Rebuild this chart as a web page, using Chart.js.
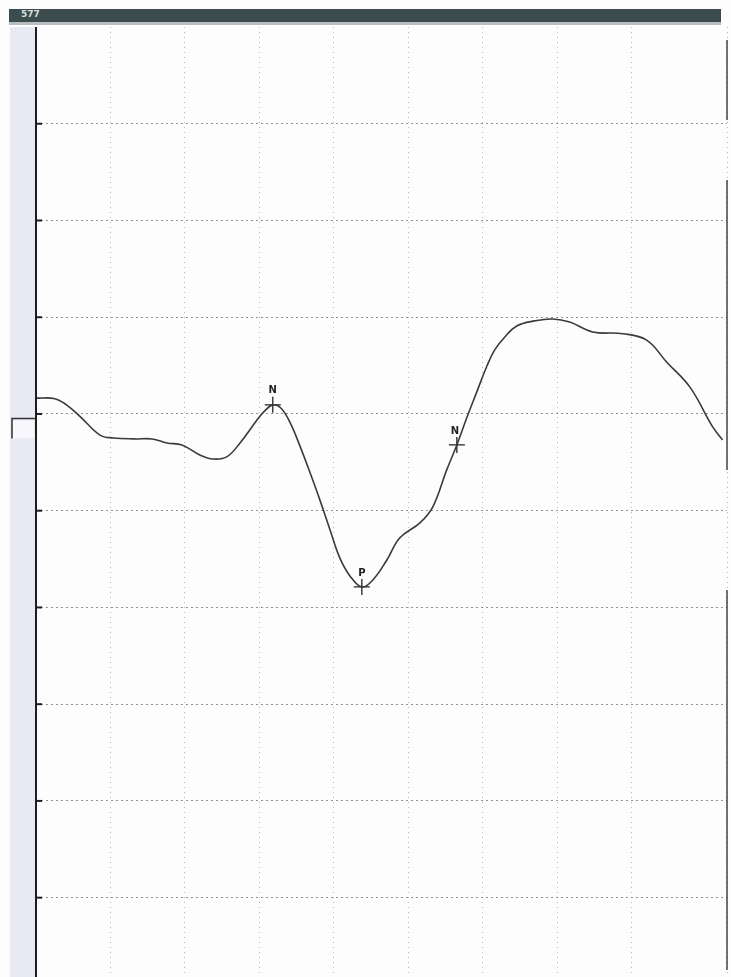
<!DOCTYPE html>
<html>
<head>
<meta charset="utf-8">
<script src="https://cdn.jsdelivr.net/npm/chart.js@4.4.0/dist/chart.umd.min.js"></script>
<style>
  html, body { margin: 0; padding: 0; background: #fff; }
  #wrap { position: relative; width: 731px; height: 977px; overflow: hidden; background: #fdfdfd; }
  #topbar { position: absolute; left: 9px; top: 9px; width: 712px; height: 13px; background: #3c4c4c; }
  #topbar span { position: absolute; left: 12px; top: 0px; font: bold 9px "DejaVu Sans", sans-serif; color: #d8dede; }
  #topline { position: absolute; left: 9px; top: 22px; width: 712px; height: 3px; background: #b9bfc0; }
  #strip { position: absolute; left: 10px; top: 27px; width: 25px; height: 950px; background: #e9e9f4; }
  #graficoOnda { position: absolute; left: 0; top: 0; }
</style>
</head>
<body>
<div id="wrap">
  <div id="strip"></div>
  <div id="topbar"><span>577</span></div>
  <div id="topline"></div>
  <canvas id="graficoOnda" width="731" height="977"></canvas>
</div>
<script>
var tiempos = [0, 6, 10, 15, 21.5, 26, 33, 39, 44, 49, 55, 59.5, 64, 68.5, 74.2, 76.8, 79.5, 82.2, 85.2, 88.6,
               91.9, 95.3, 98.7, 102, 105.4, 109.4, 113.1, 117.8, 122.1, 128.9, 133.2, 137.9, 141.3, 144.6, 148, 151.4,
               154, 157.4, 161.4, 167.4, 173.5, 179.2, 186.9, 197, 205, 211.7, 219.5, 227.2, 230.5];
var amplitudes = [0.82, 0.80, 0.5, -0.16, -1.09, -1.24, -1.29, -1.29, -1.50, -1.60, -2.12, -2.33, -2.22, -1.50, -0.31, 0.16, 0.47, 0.31, -0.41, -1.65,
                  -2.99, -4.44, -5.98, -7.44, -8.37, -8.94, -8.58, -7.55, -6.41, -5.63, -4.81, -2.89, -1.60, -0.21, 1.14, 2.48,
                  3.31, 3.98, 4.55, 4.81, 4.91, 4.75, 4.24, 4.15, 3.82, 2.69, 1.40, -0.67, -1.34];

// picos marcados
var picosNombre = ['N', 'P', 'N'];
var picosTiempo = [79.5, 109.4, 141.3];
var picosAmp = [0.47, -8.94, -1.60];

// escalas
var ejeX = [0, 232];
var ejeY = [-29.1, 20];
var pasoX = 25;
var pasoY = 5;

graficoOnda();

function graficoOnda(){

    var serie = [];
    for (var i = 0; i < tiempos.length; i++) {
        serie.push({x: tiempos[i], y: amplitudes[i]});
    }
    var picos = [];
    for (var j = 0; j < picosTiempo.length; j++) {
        picos.push({x: picosTiempo[j], y: picosAmp[j]});
    }

    var marco = {
        id: 'marco',
        afterDraw: function (chart) {
            var ctx = chart.ctx;
            var a = chart.chartArea;
            var xs = chart.scales.x;
            var ys = chart.scales.y;
            ctx.save();
            // eje izquierdo
            ctx.strokeStyle = '#1e1e1e';
            ctx.lineWidth = 2;
            ctx.beginPath();
            ctx.moveTo(a.left, a.top);
            ctx.lineTo(a.left, a.bottom);
            ctx.stroke();
            // marcas del eje
            ys.ticks.forEach(function (t) {
                var py = ys.getPixelForValue(t.value);
                ctx.beginPath();
                ctx.moveTo(a.left, py);
                ctx.lineTo(a.left + 6, py);
                ctx.stroke();
            });
            // corchete de referencia
            var py0 = Math.round(ys.getPixelForValue(-0.2)) + 0.5;
            ctx.fillStyle = '#f8f8fc';
            ctx.fillRect(13, py0 + 2, 21, 18);
            ctx.lineWidth = 1.5;
            ctx.strokeStyle = '#333';
            ctx.beginPath();
            ctx.moveTo(a.left - 1, py0);
            ctx.lineTo(12, py0);
            ctx.lineTo(12, py0 + 20);
            ctx.stroke();
            // borde derecho
            ctx.strokeStyle = '#444';
            [[40, 120], [180, 470], [590, 970]].forEach(function (s) {
                ctx.beginPath();
                ctx.moveTo(a.right, s[0]);
                ctx.lineTo(a.right, s[1]);
                ctx.stroke();
            });
            // nombres de los picos
            ctx.fillStyle = '#222';
            ctx.font = 'bold 10px "DejaVu Sans", sans-serif';
            ctx.textAlign = 'center';
            ctx.textBaseline = 'bottom';
            for (var k = 0; k < picosNombre.length; k++) {
                ctx.fillText(picosNombre[k], xs.getPixelForValue(picosTiempo[k]) - (k == 2 ? 2 : 0), ys.getPixelForValue(picosAmp[k]) - 9);
            }
            ctx.restore();
        }
    };

    var ctx = document.getElementById('graficoOnda').getContext('2d');
    var chart = new Chart(ctx, {
        type: 'line',
        data: {
            datasets: [{
                data: serie,
                borderColor: '#3a3a3a',
                borderWidth: 1.6,
                tension: 0.4,
                pointRadius: 0,
                fill: false
            }, {
                data: picos,
                showLine: false,
                pointStyle: 'cross',
                pointRadius: 8,
                borderColor: '#222',
                borderWidth: 1.3
            }]
        },
        options: {
            responsive: false,
            animation: false,
            layout: { autoPadding: false, padding: { left: 36, right: 4, top: 27, bottom: 0 } },
            plugins: { legend: { display: false }, tooltip: { enabled: false } },
            scales: {
                x: {
                    type: 'linear',
                    min: ejeX[0],
                    max: ejeX[1],
                    ticks: { display: false, stepSize: pasoX },
                    afterFit: function (s) { s.height = 0; },
                    grid: { drawTicks: false, color: 'rgba(130,130,130,0.55)', lineWidth: 1 },
                    border: { display: false, dash: [1, 4] }
                },
                y: {
                    min: ejeY[0],
                    max: ejeY[1],
                    ticks: { display: false },
                    afterFit: function (s) { s.width = 0; },
                    afterBuildTicks: function (scale) {
                        var t = [];
                        for (var v = -25; v < ejeY[1]; v += pasoY) t.push({value: v});
                        scale.ticks = t;
                    },
                    grid: { drawTicks: false, color: 'rgba(110,110,110,0.75)', lineWidth: 1 },
                    border: { display: false, dash: [2, 3] }
                }
            }
        },
        plugins: [marco]
    });
}
</script>
</body>
</html>
